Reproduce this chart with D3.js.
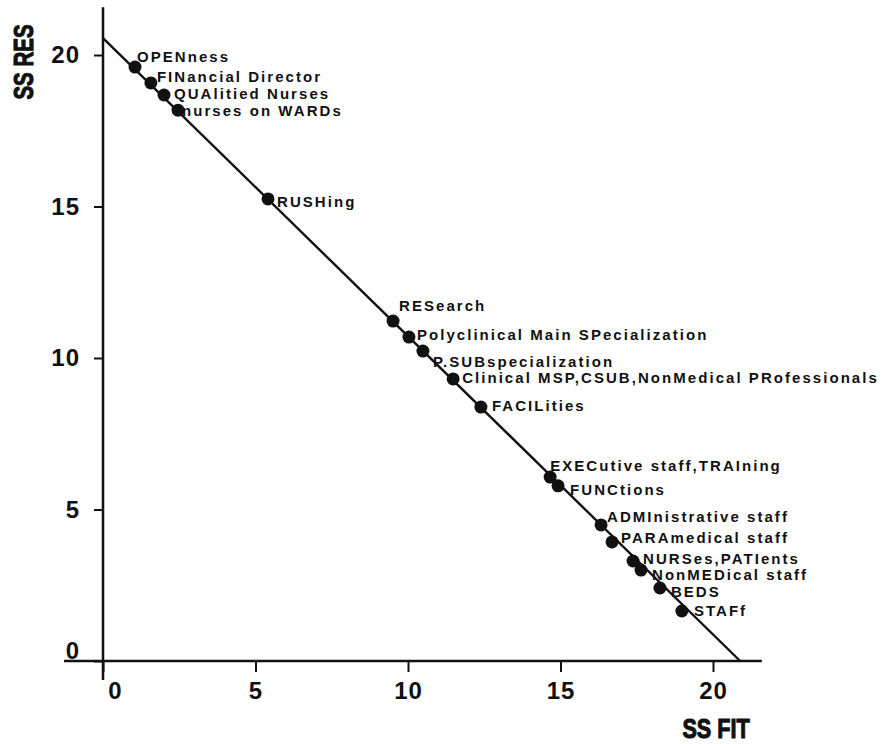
<!DOCTYPE html>
<html>
<head>
<meta charset="utf-8">
<script src="https://d3js.org/d3.v7.min.js"></script>
<style>
body { margin: 0; background: #fff; }
text { fill: #111; }
.lab { font-family: "Liberation Sans", Arial, sans-serif; font-weight: bold; font-size: 15px; letter-spacing: 2.05px; }
.tick text { font-family: "Liberation Sans", Arial, sans-serif; font-weight: bold; font-size: 24px; letter-spacing: 1px; fill: #111; }
.title { font-family: "Liberation Sans", Arial, sans-serif; font-weight: bold; font-size: 27px; stroke: #111; stroke-width: 1.1px; }
</style>
</head>
<body>
<svg id="plot" width="888" height="744"></svg>
<script>
// item names and their (SS FIT, SS RES) values
const names = ["OPENness", "FINancial Director", "QUAlitied Nurses", "nurses on WARDs", "RUSHing",
  "RESearch", "Polyclinical Main SPecialization", "P.SUBspecialization",
  "Clinical MSP,CSUB,NonMedical PRofessionals", "FACILities", "EXECutive staff,TRAIning",
  "FUNCtions", "ADMInistrative staff", "PARAmedical staff", "NURSes,PATIents",
  "NonMEDical staff", "BEDS", "STAFf"];
const ssFit = [1.05, 1.57, 2.0, 2.46, 5.41, 9.51, 10.03, 10.49, 11.48, 12.39, 14.66, 14.92, 16.33, 16.69, 17.38, 17.64, 18.26, 18.98];
const ssRes = [19.6, 19.08, 18.68, 18.18, 15.25, 11.22, 10.69, 10.23, 9.31, 8.38, 6.07, 5.78, 4.49, 3.93, 3.30, 3.0, 2.41, 1.65];
// fitted line end points
const fitX = [0, 20.89];
const fitY = [20.56, 0];
const xTicks = [0, 5, 10, 15, 20];
const yTicks = [0, 5, 10, 15, 20];

// label nudges in px (dx, dy) relative to the dot
const nudge = [[2,-5],[6,-1],[10,4],[4,6],[9,8],[6,-10],[8,3],[10,16],[9,4],[11,4],
  [0,-6],[12,9],[6,-3],[9,1],[10,3],[11,10],[11,9],[12,5]];

const svg = d3.select("#plot");
const x = d3.scaleLinear().domain([0, 20]).range([103, 713]);
const y = d3.scaleLinear().domain([0, 20]).range([661, 55]);

// axis lines run past the tick range
svg.append("line")
   .attr("x1", x(-1.28)).attr("x2", x(21.6))
   .attr("y1", y(0)).attr("y2", y(0))
   .attr("stroke", "#111").attr("stroke-width", 2.5);
svg.append("line")
   .attr("x1", x(0)).attr("x2", x(0))
   .attr("y1", y(21.58)).attr("y2", y(-0.63))
   .attr("stroke", "#111").attr("stroke-width", 2.5);

const xAxis = svg.append("g")
   .attr("transform", "translate(0," + y(0) + ")")
   .call(d3.axisBottom(x).tickValues(xTicks).tickSize(11).tickPadding(10));
const yAxis = svg.append("g")
   .attr("transform", "translate(" + x(0) + ",0)")
   .call(d3.axisLeft(y).tickValues(yTicks).tickSize(9).tickPadding(14));
svg.selectAll(".domain").remove();
svg.selectAll(".tick line").attr("stroke", "#111").attr("stroke-width", 2);
// zero labels sit off the crossing
xAxis.selectAll(".tick text").filter(d => d === 0).attr("dx", 12);
yAxis.selectAll(".tick text").filter(d => d === 0).attr("dy", "-0.1em");

let line = d3.line().x(d => x(d[0])).y(d => y(d[1]));
svg.append("path")
   .attr("d", line(d3.zip(fitX, fitY)))
   .attr("fill", "none")
   .attr("stroke", "#111")
   .attr("stroke-width", 2.4);

let pts = d3.range(names.length).map(i => ({name: names[i], fx: ssFit[i], rs: ssRes[i], n: nudge[i]}));

svg.append("g").selectAll("circle")
   .data(pts)
   .join("circle")
   .attr("cx", d => x(d.fx))
   .attr("cy", d => y(d.rs))
   .attr("r", 6.5)
   .attr("fill", "#111");

svg.append("g").selectAll("text")
   .data(pts)
   .join("text")
   .attr("class", "lab")
   .attr("x", d => x(d.fx) + d.n[0])
   .attr("y", d => y(d.rs) + d.n[1])
   .text(d => d.name);

// condensed axis titles
svg.append("text")
   .attr("class", "title")
   .attr("text-anchor", "middle")
   .attr("transform", "translate(33,62) rotate(-90) scale(0.76,1)")
   .text("SS RES");
svg.append("text")
   .attr("class", "title")
   .attr("text-anchor", "middle")
   .attr("transform", "translate(716,738) scale(0.8,1)")
   .text("SS FIT");
</script>
</body>
</html>
